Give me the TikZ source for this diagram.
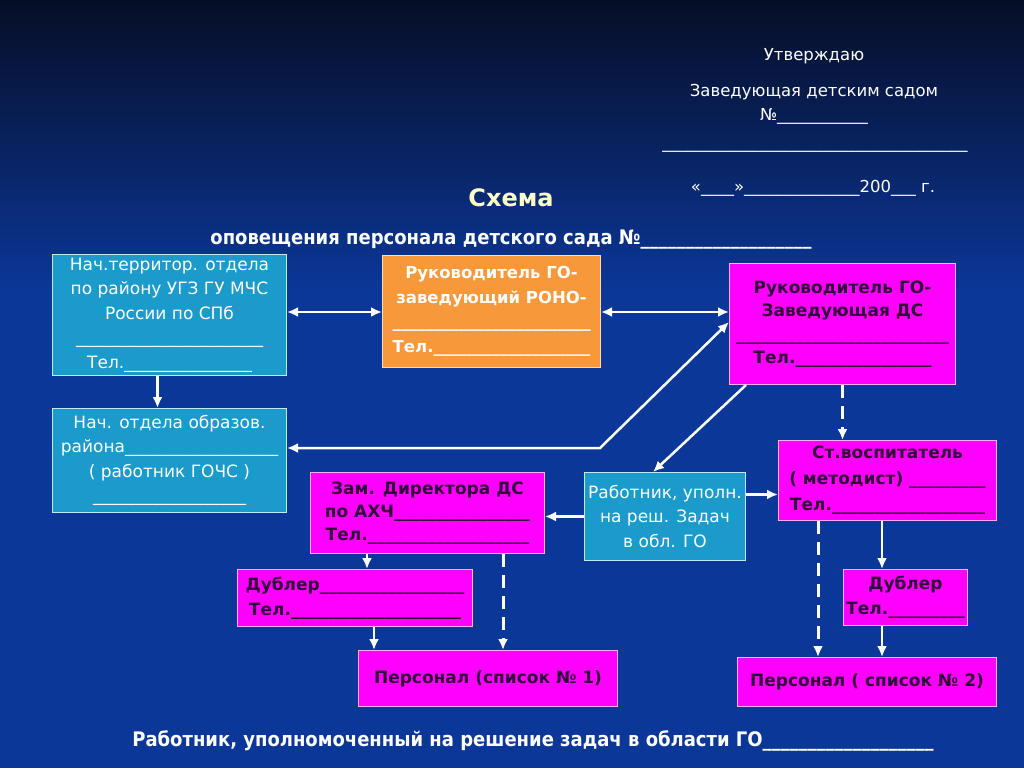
\documentclass[tikz,border=0pt]{standalone}
\usepackage{fontspec}
\setmainfont{DejaVu Sans}
\newfontfamily\narrowfont{DejaVu Sans Condensed}
\usepackage{tikz}
\usetikzlibrary{arrows.meta,positioning}
\definecolor{bgdark}{RGB}{6,14,38}
\definecolor{bgblue}{RGB}{11,55,152}
\definecolor{cyanfill}{RGB}{27,155,204}
\definecolor{cyanline}{RGB}{190,235,250}
\definecolor{orangefill}{RGB}{247,152,58}
\definecolor{orangeline}{RGB}{255,220,185}
\definecolor{magfill}{RGB}{255,0,255}
\definecolor{magline}{RGB}{255,175,255}
\definecolor{magtext}{RGB}{48,8,58}
\definecolor{paleyellow}{RGB}{255,255,205}
\newcommand{\us}[1]{\count255=0 \loop\_\advance\count255 by 1 \ifnum\count255<#1\repeat}
\tikzstyle{cyanbox} = [rectangle, draw=cyanline, line width=1pt, fill=cyanfill, text=white, align=center, inner sep=0pt, anchor=north west, font=\fontsize{17}{24.5}\selectfont]
\tikzstyle{orangebox} = [rectangle, draw=orangeline, line width=1pt, fill=orangefill, text=white, align=center, inner sep=0pt, anchor=north west, font=\bfseries\fontsize{16.5}{24.5}\selectfont]
\tikzstyle{magbox} = [rectangle, draw=magline, line width=1pt, fill=magfill, text=magtext, align=center, inner sep=0pt, anchor=north west, font=\bfseries\fontsize{17}{24}\selectfont]
\tikzstyle{textonly} = [draw=none, fill=none, text=white, align=center, font=\fontsize{16.5}{24}\selectfont]
\tikzstyle{tedge}  = [draw=white, line width=2.5pt, >={Latex[length=11pt,width=10pt]}, ->]
\tikzstyle{dashedge}  = [tedge, line width=3pt, dash pattern=on 13pt off 8pt]

\begin{document}
\begin{tikzpicture}[x=1pt, y=-1pt]

% background =============================
\useasboundingbox (0,0) rectangle (1024,768);
\fill[bgblue] (0,0) rectangle (1024,768);
\shade[top color=bgdark, bottom color=bgblue] (0,0) rectangle (1024,290);

% header texts ===========================
\node[textonly] (appr) at (814,56) {Утверждаю};
\node[textonly] (head) at (814,104) {Заведующая детским садом\\№\us{11}};
\node[textonly] (sign) at (815,150) {\us{37}};
\node[textonly] (date) at (813,188) {«\us{4}»\us{14}200\us{3} г.};
\node[textonly, text=paleyellow, font=\bfseries\fontsize{24}{28}\selectfont] (title) at (511,198) {Схема};
\node[textonly, font=\narrowfont\bfseries\fontsize{20}{22}\selectfont] (subtitle) at (511,240) {оповещения персонала детского сада №\us{19}};

% boxes ==================================
\node[cyanbox, minimum width=234pt, minimum height=121pt] (terr) at (52,254) {Нач.территор. отдела\\по району УГЗ ГУ МЧС\\России по СПб\\\us{22}\\Тел.\us{15}};
\node[orangebox, minimum width=218pt, minimum height=112pt] (rono) at (382,255) {Руководитель ГО-\\заведующий РОНО-\\\us{24}\\Тел.\us{19}};
\node[magbox, minimum width=226pt, minimum height=121pt, font=\bfseries\fontsize{17}{23.5}\selectfont] (zav) at (729,263) {Руководитель ГО-\\Заведующая ДС\\\us{25}\\Тел.\us{16}};
\node[cyanbox, minimum width=234pt, minimum height=104pt] (obr) at (52,408) {Нач. отдела образов.\\района\us{18}\\( работник ГОЧС )\\\us{18}};
\node[magbox, minimum width=234pt, minimum height=81pt, font=\bfseries\fontsize{17}{23}\selectfont] (zam) at (310,472) {Зам. Директора ДС\\по АХЧ\us{16}\\Тел.\us{19}};
\node[cyanbox, minimum width=161pt, minimum height=88pt] (rab) at (584,472) {Работник, уполн.\\на реш. Задач\\в обл. ГО};
\node[magbox, minimum width=218pt, minimum height=80pt, font=\bfseries\fontsize{17}{26}\selectfont] (st) at (778,440) {Ст.воспитатель\\( методист) \us{9}\\Тел.\us{18}};
\node[magbox, minimum width=235pt, minimum height=57pt, font=\bfseries\fontsize{17}{25}\selectfont] (dub1) at (237,569) {Дублер\us{17}\\Тел.\us{20}};
\node[magbox, minimum width=259pt, minimum height=56pt] (pers1) at (358,650) {Персонал (список № 1)};
\node[magbox, minimum width=124pt, minimum height=56pt, font=\bfseries\fontsize{17}{25}\selectfont] (dub2) at (843,569) {Дублер\\Тел.\us{9}};
\node[magbox, minimum width=259pt, minimum height=49pt] (pers2) at (737,657) {Персонал ( список № 2)};

% footer
\node[textonly, font=\narrowfont\bfseries\fontsize{20}{22}\selectfont] (foot) at (533,741) {Работник, уполномоченный на решение задач в области ГО\us{19}};

% edges top row
\draw[tedge, <->] (rono.west |- 0,312) -- (terr.east |- 0,312);
\draw[tedge, <->] (rono.east |- 0,312) -- (zav.west |- 0,312);
\draw[tedge] ([xshift=-12pt]terr.south) -- ([xshift=-12pt]terr.south |- obr.north);

% edges from zav
\coordinate (bend) at (600,448);
\draw[tedge, <->] (obr.east |- bend) -- (bend) -- (zav.west |- 0,322);
\draw[tedge] ([xshift=17pt]zav.south west) -- ([xshift=-12pt]rab.north);
\draw[dashedge] (zav.south) -- (zav.south |- st.north);

% edges from rab
\draw[tedge] ([yshift=22pt]rab.east) -- ([yshift=22pt]rab.east -| st.west);
\draw[tedge] (rab.west) -- (rab.west -| zam.east);

% edges lower left
\draw[tedge] ([xshift=57pt]zam.south west) -- ([xshift=57pt]zam.south west |- dub1.north);
\draw[dashedge] ([xshift=193pt]zam.south west) -- ([xshift=193pt]zam.south west |- pers1.north);
\draw[tedge] ([xshift=137pt]dub1.south west) -- ([xshift=137pt]dub1.south west |- pers1.north);

% edges lower right
\draw[tedge] ([xshift=104pt]st.south west) -- ([xshift=104pt]st.south west |- dub2.north);
\draw[dashedge] ([xshift=40pt]st.south west) -- ([xshift=40pt]st.south west |- pers2.north);
\draw[tedge] ([xshift=39pt]dub2.south west) -- ([xshift=39pt]dub2.south west |- pers2.north);

\end{tikzpicture}
\end{document}
